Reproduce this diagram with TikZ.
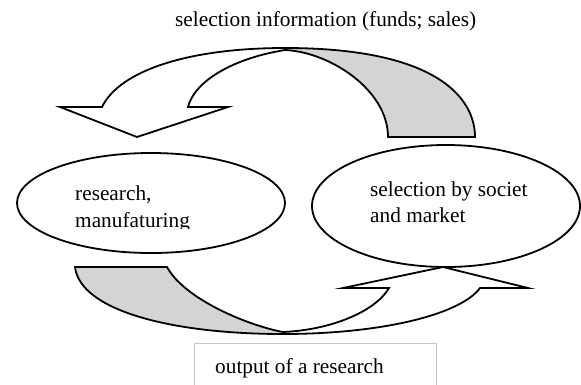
\documentclass[tikz,border=0pt]{standalone}
\usepackage{fontspec}
\setmainfont{Liberation Serif}
\usetikzlibrary{shapes.geometric}
\begin{document}
\begin{tikzpicture}[x=1pt,y=-1pt,
  shapeline/.style={draw=black,line width=1.8pt,line join=miter},
  backpart/.style={shapeline,fill=black!17},
  frontpart/.style={shapeline,fill=white},
  oval/.style={ellipse,draw=black,line width=1.8pt,fill=white,inner sep=0pt},
  lbl/.style={font=\fontsize{21.3}{26}\selectfont,inner sep=0pt,anchor=base west}]
\useasboundingbox (0,0) rectangle (581,384);

% ellipses
\node[oval,minimum width=268pt,minimum height=100pt] (rm) at (151,203) {};
\node[oval,minimum width=268pt,minimum height=122pt] (sm) at (446,206) {};

\begin{scope}
  \clip (60,160) rectangle (300,228.5);
  \node[lbl] (rmtexta) at (75,200) {research,};
  \node[lbl] (rmtextb) at (75,227) {manufaturing};
\end{scope}
\node[lbl] (smtexta) at (370,196) {selection by societ};
\node[lbl] (smtextb) at (370,222) {and market};

% top curved arrow
\path[backpart] (285,48) .. controls (440,48) and (475,100) .. (475,137)
  -- (388,137) .. controls (388,90) and (330,52) .. (285,50) -- cycle;
\path[frontpart] (285,48) .. controls (190,48) and (120,70) .. (102,107)
  -- (60,107) -- (137,137) -- (228,107) -- (188,107)
  .. controls (195,80) and (235,58) .. (285,50) -- cycle;

% bottom curved arrow
\path[backpart] (75,267) -- (167,267) .. controls (185,300) and (250,326) .. (283,332)
  -- (283,334) .. controls (170,334) and (80,310) .. (75,267) -- cycle;
\path[frontpart] (283,334) .. controls (380,334) and (460,315) .. (480,288)
  -- (528,288) -- (443,267) -- (343,288) -- (389,288)
  .. controls (375,312) and (330,330) .. (283,332) -- cycle;

% labels
\node[lbl] (sel) at (175,26) {selection information (funds; sales)};
\draw[draw=black!22,line width=0.8pt] (194,390) -- (194,343) -- (436,343) -- (436,390);
\node[lbl] (out) at (215,373) {output of a research};
\end{tikzpicture}
\end{document}
